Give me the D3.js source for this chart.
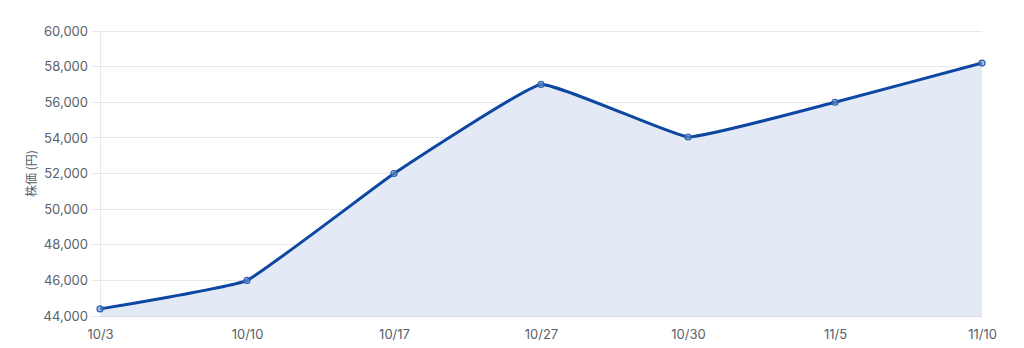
<!DOCTYPE html>
<html><head><meta charset="utf-8">
<script src="https://cdn.jsdelivr.net/npm/d3@7/dist/d3.min.js"></script>
<style>body{margin:0;background:#fff;font-family:Inter,"Noto Sans CJK JP",sans-serif;}</style>
</head><body><svg id="c" width="1024" height="348"></svg>
<script>
const categories = ["10/3","10/10","10/17","10/27","10/30","11/5","11/10"];
const prices = [44400, 46000, 52000, 57000, 54050, 56000, 58200];
const yTicks = [44000,46000,48000,50000,52000,54000,56000,58000,60000];
const yTitle = "株価 (円)";

const svg = d3.select("#c");
const m = {l:100, r:42, t:31, b:32};
const W = 1024, H = 348;
const x = d3.scalePoint().domain(categories).range([m.l, W-m.r]);
const y = d3.scaleLinear().domain([44000,60000]).range([H-m.b, m.t]);

svg.append("g").selectAll("line").data(yTicks).join("line")
  .attr("x1", m.l-8).attr("x2", W-m.r).attr("y1", d=>y(d)).attr("y2", d=>y(d))
  .attr("stroke", "#e8e8ea").attr("stroke-width",1).attr("shape-rendering","crispEdges");
svg.append("g").selectAll("line").data(categories.slice(0,1)).join("line")
  .attr("x1", d=>x(d)).attr("x2", d=>x(d)).attr("y1", m.t).attr("y2", H-m.b)
  .attr("stroke", "#e8e8ea").attr("shape-rendering","crispEdges");

const fmt = d3.format(",");
const yAxis = d3.axisLeft(y).tickValues(yTicks).tickFormat(fmt).tickSize(0).tickPadding(12);
const ga = svg.append("g").attr("transform",`translate(${m.l},0)`).call(yAxis);
ga.select(".domain").remove();
ga.selectAll("text").attr("font-size",13).attr("fill","#5a5f6b").attr("font-family","Inter,sans-serif");

const xAxis = d3.axisBottom(x).tickSize(0).tickPadding(14);
const gx = svg.append("g").attr("transform",`translate(0,${H-m.b})`).call(xAxis);
gx.select(".domain").remove();
gx.selectAll("text").attr("font-size",13).attr("fill","#5a5f6b").attr("font-family","Inter,sans-serif");

svg.append("text").attr("transform",`translate(36,${(m.t+H-m.b)/2}) rotate(-90)`)
  .attr("text-anchor","middle").attr("font-size",12).attr("fill","#5a5f6b")
  .attr("font-family","'Noto Sans CJK JP',sans-serif").text(yTitle);

const data = categories.map((c,i)=>({c, v:prices[i]}));
const curve = d3.curveCardinal.tension(0.7);
const area = d3.area().x(d=>x(d.c)).y0(y(44000)).y1(d=>y(d.v)).curve(curve);
svg.append("path").datum(data).attr("d",area).attr("fill","#e3eaf5");
svg.append("line").attr("x1",m.l).attr("x2",W-m.r).attr("y1",y(44000)).attr("y2",y(44000))
  .attr("stroke","#d6dbe3").attr("shape-rendering","crispEdges");
const line = d3.line().x(d=>x(d.c)).y(d=>y(d.v)).curve(curve);
svg.append("path").datum(data).attr("d",line).attr("fill","none")
  .attr("stroke","#0d47a1").attr("stroke-width",3);
svg.append("g").selectAll("circle").data(data).join("circle")
  .attr("cx",d=>x(d.c)).attr("cy",d=>y(d.v)).attr("r",3)
  .attr("fill","#6f93cc").attr("fill-opacity",0.6).attr("stroke","#2c5fb0").attr("stroke-width",1.2);
</script></body></html>
